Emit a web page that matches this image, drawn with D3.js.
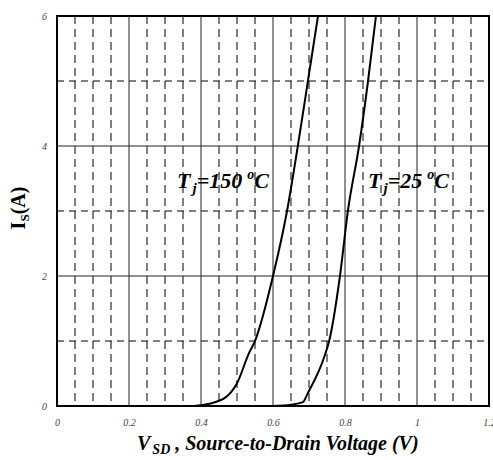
<!DOCTYPE html>
<html>
<head>
<meta charset="utf-8">
<script src="https://cdn.jsdelivr.net/npm/d3@7"></script>
<style>
  body { margin: 0; background: #fff; }
  svg text { font-family: "Liberation Serif", "Times New Roman", serif; }
</style>
</head>
<body>
<script>
// forward curves
var v150 = [0.38, 0.42, 0.47, 0.50, 0.533, 0.55, 0.60, 0.639, 0.669, 0.697, 0.725];
var i150 = [0, 0.03, 0.14, 0.35, 0.81, 1.0, 2.0, 3.0, 4.0, 5.0, 6.0];
var v25 = [0.60, 0.65, 0.683, 0.697, 0.744, 0.756, 0.786, 0.808, 0.839, 0.864, 0.886];
var i25 = [0, 0.02, 0.06, 0.2, 0.78, 1.0, 2.0, 3.0, 4.0, 5.0, 6.0];

var xTicks = [0, 0.2, 0.4, 0.6, 0.8, 1, 1.2];
var xTickLabels = ["0", "0.2", "0.4", "0.6", "0.8", "1", "1.2"];
var yTicks = [0, 2, 4, 6];
var yTickLabels = ["0", "2", "4", "6"];
var xMinor = d3.range(0, 1.2001, 0.05);
var yMinor = [1, 3, 5];

var width = 493, height = 460;
var pl = 57, pr = 489, pt = 16, pb = 406;

var svg = d3.select("body").append("svg")
  .attr("width", width)
  .attr("height", height);

var x = d3.scaleLinear().domain([0, 1.2]).range([pl, pr]);
var y = d3.scaleLinear().domain([0, 6]).range([pb, pt]);

// dashed grid
svg.append("g").selectAll("line")
  .data(xMinor.filter(function (d) { return Math.round(d * 100) % 20 != 0; }))
  .join("line")
  .attr("x1", d => x(d)).attr("x2", d => x(d))
  .attr("y1", pt).attr("y2", pb)
  .attr("stroke", "#000").attr("stroke-width", 1)
  .attr("stroke-dasharray", "8,5");

svg.append("g").selectAll("line")
  .data(yMinor)
  .join("line")
  .attr("x1", pl).attr("x2", pr)
  .attr("y1", d => y(d)).attr("y2", d => y(d))
  .attr("stroke", "#000").attr("stroke-width", 1)
  .attr("stroke-dasharray", "7,5");

// solid grid
svg.append("g").selectAll("line")
  .data(xTicks.slice(1, -1))
  .join("line")
  .attr("x1", d => x(d)).attr("x2", d => x(d))
  .attr("y1", pt).attr("y2", pb)
  .attr("stroke", "#222").attr("stroke-width", 1);

svg.append("g").selectAll("line")
  .data(yTicks.slice(1, -1))
  .join("line")
  .attr("x1", pl).attr("x2", pr)
  .attr("y1", d => y(d)).attr("y2", d => y(d))
  .attr("stroke", "#222").attr("stroke-width", 1);

// curves
var line = d3.line()
  .x(d => x(d[0]))
  .y(d => y(d[1]))
  .curve(d3.curveMonotoneX);

[[v150, i150], [v25, i25]].forEach(function (s) {
  svg.append("path")
    .datum(d3.zip(s[0], s[1]))
    .attr("d", line)
    .attr("fill", "none")
    .attr("stroke", "#000")
    .attr("stroke-width", 2);
});

// frame
svg.append("rect")
  .attr("x", pl).attr("y", pt)
  .attr("width", pr - pl).attr("height", pb - pt)
  .attr("fill", "none").attr("stroke", "#000").attr("stroke-width", 2);

// tick labels
var xAxis = svg.append("g")
  .attr("transform", "translate(0," + pb + ")")
  .call(d3.axisBottom(x).tickValues(xTicks).tickSize(0).tickPadding(13)
    .tickFormat((d, i) => xTickLabels[i]));
xAxis.select(".domain").remove();

var yAxis = svg.append("g")
  .attr("transform", "translate(" + pl + ",0)")
  .call(d3.axisLeft(y).tickValues(yTicks).tickSize(0).tickPadding(10)
    .tickFormat((d, i) => yTickLabels[i]));
yAxis.select(".domain").remove();

svg.selectAll(".tick text")
  .attr("font-family", "Liberation Serif")
  .attr("font-style", "italic")
  .attr("font-size", 10)
  .attr("fill", "#444");

// curve labels
function tjLabel(px, py, temp) {
  var t = svg.append("text")
    .attr("x", px).attr("y", py)
    .attr("font-size", 22).attr("font-weight", "bold").attr("font-style", "italic");
  t.append("tspan").text("T");
  t.append("tspan").attr("font-size", 15).attr("dx", 2).attr("dy", 5).text("j");
  t.append("tspan").attr("dy", -5).text("=" + temp);
  t.append("tspan").attr("font-size", 14).attr("dx", 5).attr("dy", -9).text("o");
  t.append("tspan").attr("dy", 9).text("C");
}
tjLabel(177, 188, "150");
tjLabel(368, 188, "25");

// axis titles
var xt = svg.append("text")
  .attr("x", 137).attr("y", 450)
  .attr("font-size", 20).attr("font-weight", "bold").attr("font-style", "italic");
xt.append("tspan").text("V");
xt.append("tspan").attr("font-size", 14).attr("dx", 2).attr("dy", 4).text("SD");
xt.append("tspan").attr("dy", -4).text(" , Source-to-Drain Voltage (V)");

var yt = svg.append("text")
  .attr("transform", "translate(25,208) rotate(-90)")
  .attr("text-anchor", "middle")
  .attr("font-size", 20).attr("font-weight", "bold");
yt.append("tspan").text("I");
yt.append("tspan").attr("font-size", 13).attr("dy", 4).text("S");
yt.append("tspan").attr("dy", -4).text("(A)");
</script>
</body>
</html>
